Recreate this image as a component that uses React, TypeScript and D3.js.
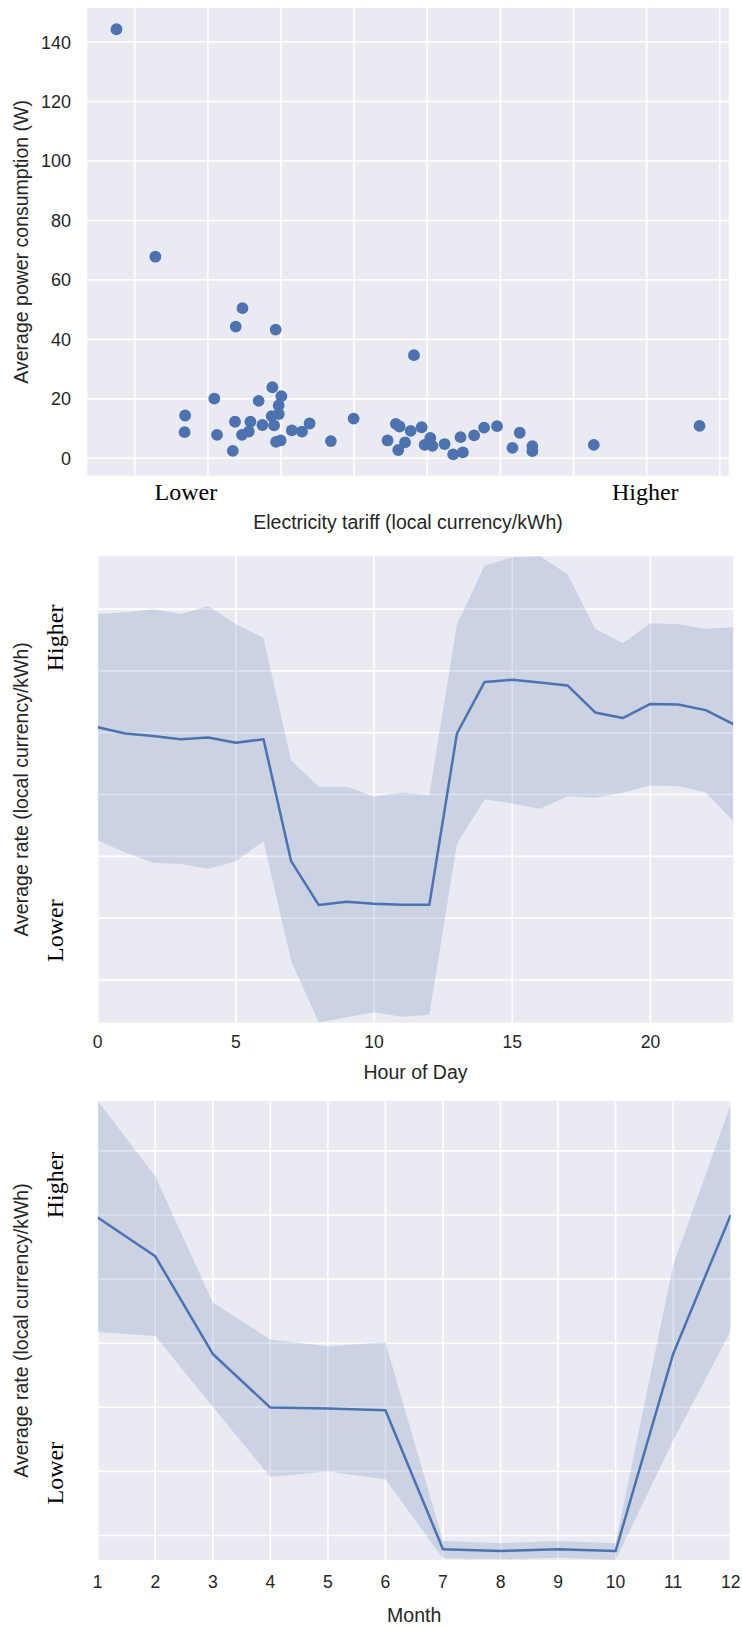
import React from 'react';
import * as d3 from 'd3';

// ---- Tariff vs. power scatter ----
const tariffLevel = [
  0.750, 1.282, 2.473, 2.381, 2.927, 4.818, 2.882, 2.088, 3.005, 2.695,
  2.968, 1.689, 2.970, 2.872, 1.682, 2.125, 2.371, 2.582, 2.466, 2.559,
  2.746, 2.905, 3.148, 3.287, 3.391, 2.932, 2.994, 2.341, 3.682, 3.993,
  4.457, 4.570, 4.621, 4.603, 4.696, 4.773, 4.923, 5.041, 4.964, 5.071,
  5.237, 5.455, 5.354, 5.487, 5.641, 5.777, 5.954, 6.264, 6.164, 6.437,
  6.437, 7.277, 8.723,
];
const avgPowerW = [
  144.3, 67.8, 50.5, 44.3, 43.3, 34.7, 23.9, 20.1, 20.9, 19.3,
  17.8, 14.4, 14.9, 14.2, 8.8, 7.9, 12.3, 12.3, 7.9, 9.0,
  11.2, 11.1, 9.4, 9.0, 11.7, 5.5, 6.0, 2.5, 5.8, 13.35,
  6.0, 11.6, 10.7, 2.8, 5.35, 9.25, 10.45, 6.85, 4.5, 4.2,
  4.8, 7.1, 1.3, 2.0, 7.7, 10.3, 10.8, 8.6, 3.5, 4.1,
  2.4, 4.5, 10.9,
];
const tariffGrid = [1, 2, 3, 4, 5, 6, 7, 8, 9];
const powerTicks = [0, 20, 40, 60, 80, 100, 120, 140];
const tariffLabels = ['Lower', 'Higher'];
const tariffLabelAt = [1.70, 7.98];

// ---- Hourly rate profile ----
const hours = [0, 1, 2, 3, 4, 5, 6, 7, 8, 9, 10, 11, 12, 13, 14, 15, 16, 17, 18, 19, 20, 21, 22, 23];
const hourlyRate = [
  0.3044, 0.2994, 0.2973, 0.2948, 0.2961, 0.2919, 0.2948, 0.1961, 0.1606, 0.1633,
  0.1617, 0.1608, 0.1608, 0.2994, 0.3411, 0.3428, 0.3406, 0.3383, 0.3164, 0.3119,
  0.3233, 0.3228, 0.3183, 0.3069,
];
const hourlyRateLow = [
  0.2128, 0.2031, 0.1948, 0.1939, 0.1900, 0.1961, 0.2123, 0.1156, 0.0656, 0.0698,
  0.0739, 0.0703, 0.0719, 0.2100, 0.2461, 0.2428, 0.2386, 0.2486, 0.2475, 0.2514,
  0.2573, 0.2569, 0.2517, 0.2286,
];
const hourlyRateHigh = [
  0.3961, 0.3973, 0.3998, 0.3961, 0.4025, 0.3878, 0.3767, 0.2775, 0.2564, 0.2564,
  0.2486, 0.2517, 0.2497, 0.3878, 0.4350, 0.4420, 0.4428, 0.4281, 0.3842, 0.3723,
  0.3886, 0.3878, 0.3842, 0.3853,
];
const hourTicks = [0, 5, 10, 15, 20];
const rateGrid = [0.10, 0.15, 0.20, 0.25, 0.30, 0.35, 0.40];
const rateLabels = ['Higher', 'Lower'];
const hourRateLabelAt = [0.3767, 0.1399];

// ---- Monthly rate profile ----
const months = [1, 2, 3, 4, 5, 6, 7, 8, 9, 10, 11, 12];
const monthlyRate = [0.3480, 0.3178, 0.2416, 0.1998, 0.1991, 0.1977, 0.0893, 0.0879, 0.0893, 0.0879, 0.2416, 0.3501];
const monthlyRateLow = [0.2587, 0.2556, 0.2004, 0.1457, 0.1500, 0.1439, 0.0822, 0.0814, 0.0827, 0.0809, 0.1741, 0.2595];
const monthlyRateHigh = [0.4389, 0.3803, 0.2818, 0.2529, 0.2477, 0.2508, 0.0958, 0.0940, 0.0958, 0.0940, 0.3107, 0.4362];
const monthTicks = months;
const monthRateLabelAt = [0.3734, 0.1487];

const BG = '#EAEAF2';
const BLUE = '#4C72B0';
const INK = '#262626';
const SANS = '"Liberation Sans", Arial, sans-serif';
const SERIF = '"Liberation Serif", "Times New Roman", serif';

type Box = { left: number; top: number; right: number; bottom: number };

function padded(values: number[], frac = 0.05): [number, number] {
  const [lo, hi] = d3.extent(values) as [number, number];
  const m = (hi - lo) * frac;
  return [lo - m, hi + m];
}

function ScatterPanel() {
  const box: Box = { left: 87.3, top: 8, right: 728.7, bottom: 475.7 };
  const x = d3.scaleLinear().domain(padded(tariffLevel)).range([box.left, box.right]);
  const y = d3.scaleLinear().domain(padded(avgPowerW)).range([box.bottom, box.top]);
  const cy = (box.top + box.bottom) / 2;
  return (
    <g>
      <rect x={box.left} y={box.top} width={box.right - box.left} height={box.bottom - box.top} fill={BG} />
      {tariffGrid.map((t) => (
        <line key={'vx' + t} x1={x(t)} x2={x(t)} y1={box.top} y2={box.bottom} stroke="#fff" strokeWidth={1.6} />
      ))}
      {powerTicks.map((t) => (
        <line key={'hy' + t} x1={box.left} x2={box.right} y1={y(t)} y2={y(t)} stroke="#fff" strokeWidth={1.6} />
      ))}
      {tariffLevel.map((t, i) => (
        <circle key={i} cx={x(t)} cy={y(avgPowerW[i])} r={5.9} fill={BLUE} />
      ))}
      {powerTicks.map((t) => (
        <text key={'ty' + t} x={71} y={y(t)} dy="0.36em" textAnchor="end" fontFamily={SANS} fontSize={18} fill={INK}>
          {t}
        </text>
      ))}
      {tariffLabels.map((s, i) => (
        <text key={s} x={x(tariffLabelAt[i])} y={500} textAnchor="middle" fontFamily={SERIF} fontSize={24} fill="#000">
          {s}
        </text>
      ))}
      <text x={(box.left + box.right) / 2} y={529} textAnchor="middle" fontFamily={SANS} fontSize={19.5} fill={INK}>
        Electricity tariff (local currency/kWh)
      </text>
      <text transform={`translate(28,${cy}) rotate(-90)`} textAnchor="middle" fontFamily={SANS} fontSize={19.5} fill={INK}>
        Average power consumption (W)
      </text>
    </g>
  );
}

type RateProps = {
  id: string;
  box: Box;
  xs: number[];
  mid: number[];
  low: number[];
  high: number[];
  xTicks: number[];
  xGrid: number[];
  labelAt: number[];
  tickBaseline: number;
  xLabel: string;
  xLabelBaseline: number;
};

function RatePanel(p: RateProps) {
  const { box } = p;
  const x = d3.scaleLinear().domain(d3.extent(p.xs) as [number, number]).range([box.left, box.right]);
  const y = d3
    .scaleLinear()
    .domain([d3.min(p.low) as number, d3.max(p.high) as number])
    .range([box.bottom, box.top]);
  const band = d3
    .area<number>()
    .x((d) => x(d))
    .y0((_, i) => y(p.low[i]))
    .y1((_, i) => y(p.high[i]));
  const line = d3
    .line<number>()
    .x((d) => x(d))
    .y((_, i) => y(p.mid[i]));
  const cy = (box.top + box.bottom) / 2;
  return (
    <g>
      <defs>
        <clipPath id={p.id}>
          <rect x={box.left} y={box.top} width={box.right - box.left} height={box.bottom - box.top} />
        </clipPath>
      </defs>
      <rect x={box.left} y={box.top} width={box.right - box.left} height={box.bottom - box.top} fill={BG} />
      {p.xGrid.map((t) => (
        <line key={'vx' + t} x1={x(t)} x2={x(t)} y1={box.top} y2={box.bottom} stroke="#fff" strokeWidth={1.6} />
      ))}
      {rateGrid.map((t) => (
        <line key={'hy' + t} x1={box.left} x2={box.right} y1={y(t)} y2={y(t)} stroke="#fff" strokeWidth={1.6} />
      ))}
      <g clipPath={`url(#${p.id})`}>
        <path d={band(p.xs) || ''} fill={BLUE} fillOpacity={0.2} />
        <path d={line(p.xs) || ''} fill="none" stroke={BLUE} strokeWidth={2.5} strokeLinejoin="round" />
      </g>
      {p.xTicks.map((t) => (
        <text key={'tx' + t} x={x(t)} y={p.tickBaseline} textAnchor="middle" fontFamily={SANS} fontSize={17.5} fill={INK}>
          {t}
        </text>
      ))}
      {rateLabels.map((s, i) => (
        <text
          key={s}
          transform={`translate(63,${y(p.labelAt[i])}) rotate(-90)`}
          textAnchor="middle"
          fontFamily={SERIF}
          fontSize={24}
          fill="#000"
        >
          {s}
        </text>
      ))}
      <text x={(box.left + box.right) / 2} y={p.xLabelBaseline} textAnchor="middle" fontFamily={SANS} fontSize={19.5} fill={INK}>
        {p.xLabel}
      </text>
      <text transform={`translate(28,${cy}) rotate(-90)`} textAnchor="middle" fontFamily={SANS} fontSize={19.5} fill={INK}>
        Average rate (local currency/kWh)
      </text>
    </g>
  );
}

export default function App() {
  return (
    <div style={{ position: 'absolute', left: 0, top: 0 }}>
      <svg width={742} height={1627} viewBox="0 0 742 1627" style={{ display: 'block', background: '#fff' }}>
        <ScatterPanel />
        <RatePanel
          id="clip-hour"
          box={{ left: 97.7, top: 556.2, right: 733.3, bottom: 1022.5 }}
          xs={hours}
          mid={hourlyRate}
          low={hourlyRateLow}
          high={hourlyRateHigh}
          xTicks={hourTicks}
          xGrid={hourTicks}
          labelAt={hourRateLabelAt}
          tickBaseline={1047.5}
          xLabel="Hour of Day"
          xLabelBaseline={1078.6}
        />
        <RatePanel
          id="clip-month"
          box={{ left: 97.7, top: 1101, right: 730.7, bottom: 1560 }}
          xs={months}
          mid={monthlyRate}
          low={monthlyRateLow}
          high={monthlyRateHigh}
          xTicks={monthTicks}
          xGrid={monthTicks}
          labelAt={monthRateLabelAt}
          tickBaseline={1587.5}
          xLabel="Month"
          xLabelBaseline={1622}
        />
      </svg>
    </div>
  );
}
